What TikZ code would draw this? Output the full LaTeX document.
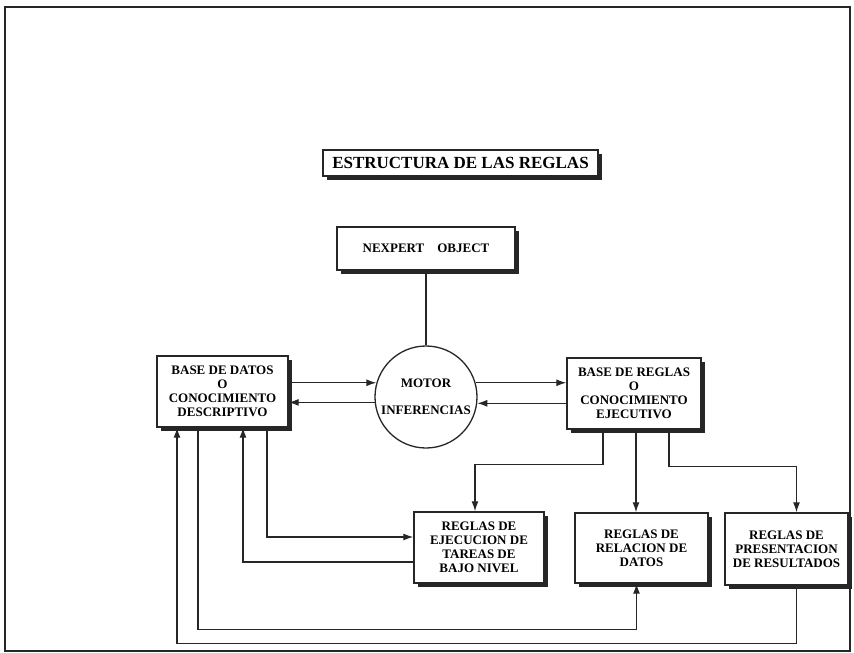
\documentclass[tikz,border=0pt]{standalone}
\usepackage{fontspec}
\setmainfont{Liberation Serif}
\usetikzlibrary{arrows.meta,shadows}
\begin{document}
\begin{tikzpicture}
[x=1pt, y=-1pt,
box/.style={draw=black!85, line width=1.4pt, fill=white, align=center,
            font=\bfseries\fontsize{13}{14}\selectfont,
            drop shadow={shadow xshift=4pt, shadow yshift=-4pt, fill=black!85, opacity=1}},
arr/.style={-{Latex[length=10pt,width=7pt]}, line width=1.3pt, draw=black!85},
line/.style={line width=1.3pt, draw=black!85}
]
\useasboundingbox (0,0) rectangle (854,653);
\draw[line width=1.6pt, draw=black!85] (5,7) rectangle (850,651);
%\node[box] at (427,40) {};
\node[box, minimum width=275pt, minimum height=26pt,
      font=\bfseries\fontsize{17}{19}\selectfont] (titulo) at (460.5,163) {ESTRUCTURA DE LAS REGLAS};
\node[box, minimum width=178pt, minimum height=43pt] (nexpert) at (426,248.5) {NEXPERT\quad OBJECT};
\node[draw=black!85, circle, line width=1.3pt, minimum size=102pt, inner sep=0pt, align=center,
      font=\bfseries\fontsize{13}{14}\selectfont] (motor) at (426,397) {MOTOR\\[13pt]INFERENCIAS};
\node[box, minimum width=131pt, minimum height=71pt] (datos) at (222.5,391.5)
    {BASE DE DATOS\\O\\CONOCIMIENTO\\DESCRIPTIVO};
\node[box, minimum width=134pt, minimum height=71pt] (reglas) at (634,393.5)
    {BASE DE REGLAS\\O\\CONOCIMIENTO\\EJECUTIVO};
\node[box, minimum width=130pt, minimum height=71pt] (ejecucion) at (479,547.5)
    {REGLAS DE\\EJECUCION DE\\TAREAS DE\\BAJO NIVEL};
\node[box, minimum width=133pt, minimum height=70pt] (relacion) at (641.5,548)
    {REGLAS DE\\RELACION DE\\DATOS};
\node[box, minimum width=123pt, minimum height=72pt] (presentacion) at (786.5,549)
    {REGLAS DE\\PRESENTACION\\DE RESULTADOS};

\draw[line] (nexpert.south) -- (motor.north);
\draw[arr] (datos.east |- motor.164) -- (motor.164);
\draw[arr] (motor.186) -- (motor.186 -| datos.east);
\draw[arr] (motor.16) -- (motor.16 -| reglas.west);
\draw[arr] (reglas.west |- motor.-7) -- (motor.-7);

\draw[arr] ([xshift=-31pt]reglas.south) -- ++(0,35) -| ([xshift=-4pt]ejecucion.north);
\draw[arr] ([xshift=2pt]reglas.south) -- ([xshift=2pt]reglas.south |- relacion.north);
\draw[arr] ([xshift=35pt]reglas.south) -- ++(0,37) -| ([xshift=10pt]presentacion.north);

\draw[arr] ([xshift=44.5pt]datos.south) |- ([yshift=10.5pt]ejecucion.west);
\draw[arr] ([yshift=-14.5pt]ejecucion.west) -| ([xshift=20.5pt]datos.south);
\draw[arr] ([xshift=-24.5pt]datos.south) -- ++(0,202) -| ([xshift=-5pt]relacion.south);
\draw[arr] ([xshift=10pt]presentacion.south) -- ++(0,58) -| ([xshift=-45.5pt]datos.south);
\end{tikzpicture}
\end{document}
